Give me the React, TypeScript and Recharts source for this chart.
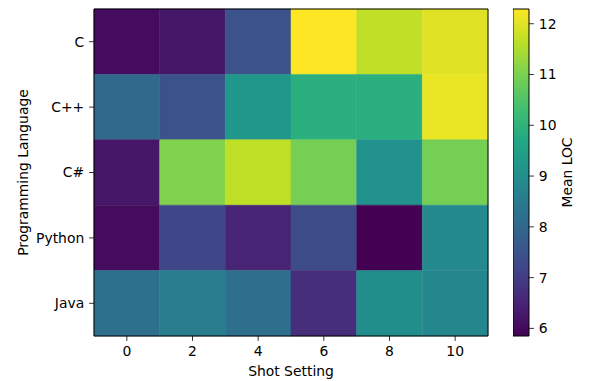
import { ComposedChart, ReferenceArea, XAxis, YAxis } from 'recharts';

const languages = ['C', 'C++', 'C#', 'Python', 'Java'];
const shots = [0, 2, 4, 6, 8, 10];

// mean LOC per language, one value per shot setting
const locC = [6.04, 6.24, 7.46, 12.29, 11.68, 12.0];
const locCpp = [8.04, 7.5, 9.2, 9.9, 9.9, 12.1];
const locCsharp = [6.24, 11.07, 11.65, 10.94, 9.1, 10.94];
const locPython = [6.05, 7.2, 6.5, 7.33, 5.85, 8.88];
const locJava = [8.23, 8.55, 8.2, 6.69, 9.0, 8.8];

const colorbarTicks = [6, 7, 8, 9, 10, 11, 12];

const rows = [locC, locCpp, locCsharp, locPython, locJava];
const allValues = rows.flat();
const vmin = Math.min(...allValues);
const vmax = Math.max(...allValues);

const viridisStops = [
  '#440154', '#482475', '#414487', '#355f8d', '#2a788e', '#21918c',
  '#22a884', '#44bf70', '#7ad151', '#bddf26', '#fde725',
];

const hexToRgb = (h: string) => [1, 3, 5].map((i) => parseInt(h.slice(i, i + 2), 16));

const viridis = (t: number) => {
  const c = Math.max(0, Math.min(1, t)) * (viridisStops.length - 1);
  const i = Math.min(Math.floor(c), viridisStops.length - 2);
  const f = c - i;
  const a = hexToRgb(viridisStops[i]);
  const b = hexToRgb(viridisStops[i + 1]);
  const rgb = a.map((v, k) => Math.round(v + (b[k] - v) * f));
  return `rgb(${rgb.join(',')})`;
};

const cells = rows.flatMap((vals, row) =>
  vals.map((value, col) => ({ shot: shots[col], row, value })),
);

const font = { fill: '#000', fontSize: 13.9, fontFamily: 'DejaVu Sans' };

export default function App() {
  return (
    <div
      style={{
        position: 'absolute',
        left: 0,
        top: 0,
        width: 596,
        height: 381,
        background: '#fff',
        fontFamily: 'DejaVu Sans',
      }}
    >
      <div style={{ position: 'absolute', left: 0, top: 0 }}>
        <ComposedChart
          width={500}
          height={381}
          data={cells}
          margin={{ top: 9, right: 12, bottom: 0, left: 0 }}
        >
          <XAxis
            type="number"
            dataKey="shot"
            domain={[-1, 11]}
            ticks={shots}
            allowDataOverflow
            height={45}
            axisLine={false}
            tickSize={4.9}
            tickMargin={4.9}
            tickLine={{ stroke: '#000', strokeWidth: 0.8 }}
            tick={font}
            label={{ value: 'Shot Setting', position: 'insideBottom', offset: 5, style: font }}
          />
          <YAxis
            type="number"
            dataKey="row"
            domain={[-0.5, 4.5]}
            ticks={[0, 1, 2, 3, 4]}
            reversed
            allowDataOverflow
            width={94}
            axisLine={false}
            tickSize={4.9}
            tickMargin={4.9}
            tickLine={{ stroke: '#000', strokeWidth: 0.8 }}
            tick={font}
            tickFormatter={(i: number) => languages[i]}
            label={{
              value: 'Programming Language',
              angle: -90,
              position: 'insideLeft',
              offset: 23,
              style: { ...font, textAnchor: 'middle' },
            }}
          />
          {cells.map((c) => {
            const color = viridis((c.value - vmin) / (vmax - vmin));
            return (
              <ReferenceArea
                key={`${c.row}-${c.shot}`}
                x1={c.shot - 1}
                x2={c.shot + 1}
                y1={c.row - 0.5}
                y2={c.row + 0.5}
                fill={color}
                fillOpacity={1}
                stroke={color}
                strokeWidth={0.5}
              />
            );
          })}
          <ReferenceArea
            x1={-1}
            x2={11}
            y1={-0.5}
            y2={4.5}
            fill="none"
            stroke="#000"
            strokeWidth={1}
          />
        </ComposedChart>
      </div>
      <div style={{ position: 'absolute', left: 513, top: 0 }}>
        <ComposedChart
          width={83}
          height={381}
          data={[{ x: 0, y: vmin }, { x: 1, y: vmax }]}
          margin={{ top: 9, right: 0, bottom: 45, left: 0 }}
        >
          <defs>
            <linearGradient id="viridisBar" x1="0" y1="1" x2="0" y2="0">
              {viridisStops.map((c, i) => (
                <stop key={c} offset={`${(i / (viridisStops.length - 1)) * 100}%`} stopColor={c} />
              ))}
            </linearGradient>
          </defs>
          <XAxis type="number" dataKey="x" domain={[0, 1]} hide />
          <YAxis
            type="number"
            dataKey="y"
            orientation="right"
            domain={[vmin, vmax]}
            ticks={colorbarTicks}
            allowDataOverflow
            width={67}
            axisLine={false}
            tickSize={4.9}
            tickMargin={4.9}
            tickLine={{ stroke: '#000', strokeWidth: 0.8 }}
            tick={font}
            label={{
              value: 'Mean LOC',
              angle: -90,
              position: 'insideRight',
              offset: 29,
              style: { ...font, textAnchor: 'middle' },
            }}
          />
          <ReferenceArea
            x1={0}
            x2={1}
            y1={vmin}
            y2={vmax}
            fill="url(#viridisBar)"
            fillOpacity={1}
            stroke="#000"
            strokeWidth={1}
          />
        </ComposedChart>
      </div>
    </div>
  );
}
